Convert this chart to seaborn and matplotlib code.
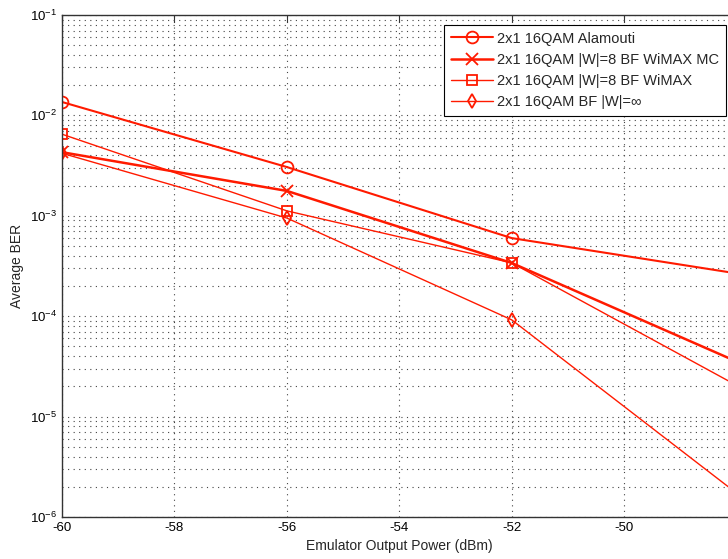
import seaborn as sns
import matplotlib.pyplot as plt
import matplotlib.ticker as mticker
import pandas as pd
import numpy as np

# data (BER vs emulator output power)
power_dbm = [-60, -56, -52, -48]
ber_alamouti = [1.36e-2, 3.06e-3, 6.0e-4, 2.67e-4]
ber_bf_mc = [4.3e-3, 1.77e-3, 3.39e-4, 3.54e-5]
ber_bf_wimax = [6.5e-3, 1.12e-3, 3.4e-4, 2.05e-5]
ber_bf_inf = [4.2e-3, 9.5e-4, 9.2e-5, 1.73e-6]

labels = [
    '2x1 16QAM Alamouti',
    '2x1 16QAM |W|=8 BF WiMAX MC',
    '2x1 16QAM |W|=8 BF WiMAX',
    '2x1 16QAM BF |W|=\u221e',
]
series = [ber_alamouti, ber_bf_mc, ber_bf_wimax, ber_bf_inf]
markers = ['o', 'x', 's', 'd']
widths = [1.5, 1.8, 1.0, 1.0]
msizes = [8.5, 9, 7, 7]

red = '#ff1a00'

sns.set_style("white")
plt.rcParams['font.family'] = ['Liberation Sans', 'DejaVu Sans']
plt.rcParams['mathtext.fontset'] = 'custom'
plt.rcParams['mathtext.rm'] = 'Liberation Sans'
plt.rcParams['mathtext.it'] = 'Liberation Sans'
plt.rcParams['axes.unicode_minus'] = False

fig = plt.figure(figsize=(7.28, 5.59), dpi=100)
# the original figure is cropped on the right: axes run past the edge
ax = fig.add_axes([62 / 728, 42 / 559, 674.5 / 728, 502 / 559])

for lab, vals, mk, lw, ms in zip(labels, series, markers, widths, msizes):
    df = pd.DataFrame({'x': power_dbm, 'y': vals})
    sns.lineplot(data=df, x='x', y='y', ax=ax, color=red, linewidth=lw,
                 marker=mk, markersize=ms, markerfacecolor='none',
                 markeredgecolor=red, markeredgewidth=1.3, label=lab)

ax.set_yscale('log')
ax.set_ylim(1e-6, 1e-1)
ax.set_xlim(-60, -48)
ax.set_xticks(np.arange(-60, -47, 2))
ax.yaxis.set_major_locator(mticker.LogLocator(base=10, numticks=10))
ax.yaxis.set_minor_locator(mticker.LogLocator(base=10, subs=np.arange(2, 10), numticks=20))
ax.yaxis.set_minor_formatter(mticker.NullFormatter())

dots = (0, (1, 4))
ax.grid(True, which='major', axis='both', color='#444444', linestyle=dots, linewidth=0.8)
ax.grid(True, which='minor', axis='y', color='#444444', linestyle=dots, linewidth=0.8)

for sp in ax.spines.values():
    sp.set_color('#333333')
    sp.set_linewidth(1.0)

ax.tick_params(axis='both', which='both', direction='in', top=True, right=True,
               colors='#333333', labelcolor='black', labelsize=9.5)
ax.tick_params(which='major', length=5)
ax.tick_params(which='minor', length=3)

ax.set_xlabel('Emulator Output Power (dBm)', fontsize=10, labelpad=4)
ax.set_ylabel('Average BER', fontsize=10, labelpad=4)

leg = ax.legend(loc='upper right', bbox_to_anchor=(726 / 728, 1 - 25 / 559),
                bbox_transform=fig.transFigure, borderaxespad=0, fontsize=10.5,
                frameon=True, fancybox=False, handlelength=2.9, handletextpad=0.3,
                labelspacing=0.5, borderpad=0.45)
leg.get_frame().set_edgecolor('black')
leg.get_frame().set_linewidth(0.8)
leg.get_frame().set_alpha(1)

fig.savefig('out.png', dpi=100, facecolor='white')
